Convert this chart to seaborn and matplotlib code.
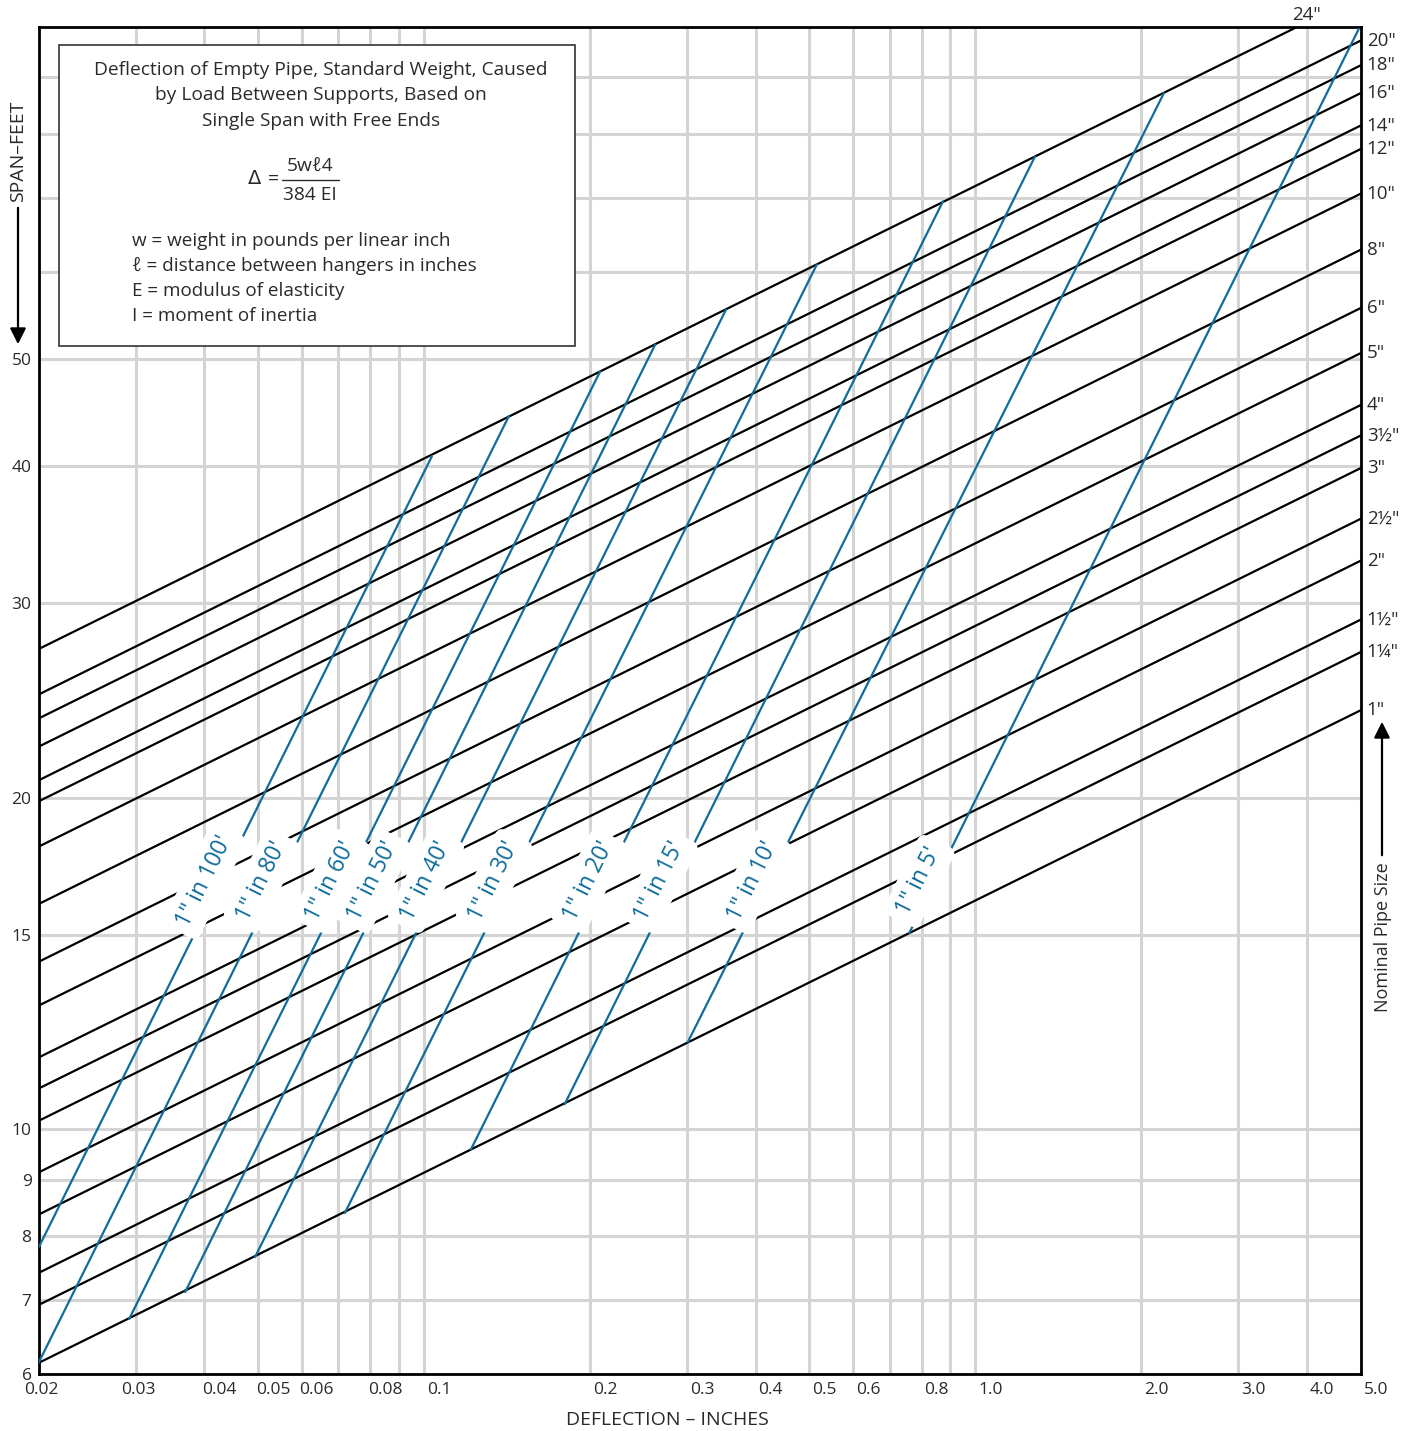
import numpy as np
import pandas as pd
import seaborn as sns
import matplotlib.pyplot as plt
import matplotlib.transforms as mtransforms
from matplotlib.lines import Line2D
from matplotlib.patches import Rectangle
from matplotlib.ticker import NullFormatter

W, H = 1416, 1431

# pipe lines: span (feet) read at the left edge (0.02") and right edge (5.0")
pipe_sizes = ['1"', '1¼"', '1½"', '2"', '2½"', '3"', '3½"', '4"', '5"', '6"',
              '8"', '10"', '12"', '14"', '16"', '18"', '20"', '24"']
span_left = [6.14, 6.93, 7.41, 8.37, 9.14, 10.18, 10.89, 11.62, 12.95, 14.19,
             16.01, 18.05, 19.84, 20.73, 22.24, 23.59, 24.80, 27.27]
span_right = [24.0, 27.1, 29.0, 32.8, 35.8, 39.8, 42.6, 45.4, 50.6, 55.6,
              62.8, 70.6, 77.5, 81.4, 87.1, 92.3, 97.2, 106.8]
defl_left, defl_right = 0.02, 5.0

# pitch lines (blue): start and end points
pitch_labels = ['1" in 100\'', '1" in 80\'', '1" in 60\'', '1" in 50\'', '1" in 40\'',
                '1" in 30\'', '1" in 20\'', '1" in 15\'', '1" in 10\'', '1" in 5\'']
pitch_defl0 = [0.02, 0.02, 0.0292, 0.0369, 0.0494, 0.0719, 0.1217, 0.180, 0.301, 0.759]
pitch_span0 = [7.81, 6.14, 6.73, 7.12, 7.66, 8.40, 9.59, 10.54, 12.0, 15.07]
pitch_defl1 = [0.1034, 0.1427, 0.2087, 0.2626, 0.353, 0.516, 0.874, 1.283, 2.198, 4.96]
pitch_span1 = [40.8, 44.4, 48.7, 51.5, 55.4, 60.9, 69.5, 76.3, 87.1, 99.6]
label_span = 16.8

x_ticks = [0.02, 0.03, 0.04, 0.05, 0.06, 0.08, 0.1, 0.2, 0.3, 0.4, 0.5, 0.6, 0.8,
           1.0, 2.0, 3.0, 4.0, 5.0]
x_tick_labels = ['0.02', '0.03', '0.04', '0.05', '0.06', '0.08', '0.1', '0.2', '0.3',
                 '0.4', '0.5', '0.6', '0.8', '1.0', '2.0', '3.0', '4.0', '5.0']
x_grid_extra = [0.07, 0.09, 0.7, 0.9]
y_ticks = [6, 7, 8, 9, 10, 15, 20, 30, 40, 50]
y_grid_extra = [60, 70, 80, 90]

BLUE = '#0f6d9c'
TXT = '#2a2a2a'

sns.set_theme(style='white')
plt.rcParams['font.family'] = ['Open Sans', 'DejaVu Sans']

fig = plt.figure(figsize=(W / 100, H / 100), dpi=100)
ax = fig.add_axes([38.5 / W, (H - 1374) / H, (1360.7 - 38.5) / W, (1374 - 27) / H])
ax.set_xscale('log')
ax.set_yscale('log')

pipes = pd.DataFrame({
    'pipe': pipe_sizes * 2,
    'deflection': [defl_left] * len(pipe_sizes) + [defl_right] * len(pipe_sizes),
    'span': span_left + span_right,
})
sns.lineplot(data=pipes, x='deflection', y='span', units='pipe', estimator=None,
             sort=False, color='black', lw=1.6, ax=ax, legend=False, zorder=2)

pitch = pd.DataFrame({
    'slope': pitch_labels * 2,
    'deflection': pitch_defl0 + pitch_defl1,
    'span': pitch_span0 + pitch_span1,
})
sns.lineplot(data=pitch, x='deflection', y='span', units='slope', estimator=None,
             sort=False, color=BLUE, lw=1.6, ax=ax, legend=False, zorder=3)

ax.set_xlim(defl_left, defl_right)
ax.set_ylim(6, 100)
ax.set_xticks(x_ticks, x_tick_labels)
ax.set_xticks(x_grid_extra, minor=True)
ax.set_yticks(y_ticks, [str(v) for v in y_ticks])
ax.set_yticks(y_grid_extra, minor=True)
ax.xaxis.set_minor_formatter(NullFormatter())
ax.yaxis.set_minor_formatter(NullFormatter())
ax.tick_params(which='both', length=0, labelsize=12.5, labelcolor=TXT)
ax.tick_params(axis='x', pad=6)
ax.tick_params(axis='y', pad=5)
ax.grid(True, which='both', color='#d4d4d4', lw=2.2)
ax.set_axisbelow(True)
ax.set_xlabel('')
ax.set_ylabel('')
for sp in ax.spines.values():
    sp.set_visible(True)
    sp.set_color('black')
    sp.set_linewidth(2)

# x tick labels sit a little right of their gridlines in the original
for i, lab in enumerate(ax.get_xticklabels()):
    dx = 3 if i < 2 else 15
    lab.set_transform(lab.get_transform() + mtransforms.ScaledTranslation(dx / 100, 0, fig.dpi_scale_trans))

# pitch labels with white backing
for lab, d0, s0, d1, s1 in zip(pitch_labels, pitch_defl0, pitch_span0, pitch_defl1, pitch_span1):
    t = (np.log(label_span) - np.log(s0)) / (np.log(s1) - np.log(s0))
    d = np.exp(np.log(d0) + t * (np.log(d1) - np.log(d0)))
    ax.annotate(lab, xy=(d, label_span), xytext=(-16, 0), textcoords='offset pixels',
                rotation=63.5, rotation_mode='anchor', ha='center', va='center',
                color=BLUE, fontsize=16.5, zorder=5,
                bbox=dict(boxstyle='round,pad=0.35', fc='white', ec='none'))

# pipe size labels on the right
for name, s1, s0 in zip(pipe_sizes, span_right, span_left):
    if s1 <= 100:
        ax.annotate(name, xy=(defl_right, s1), xytext=(6, 0), textcoords='offset pixels',
                    ha='left', va='center', fontsize=13.5, color=TXT, annotation_clip=False)
    else:
        t = (np.log(100) - np.log(s0)) / (np.log(s1) - np.log(s0))
        d = np.exp(np.log(defl_left) + t * (np.log(defl_right) - np.log(defl_left)))
        ax.annotate(name, xy=(d, 100), xytext=(10, 12), textcoords='offset pixels',
                    ha='center', va='center', fontsize=13.5, color=TXT, annotation_clip=False)


def fx(x):
    return x / W


def fy(y):
    return 1 - y / H


# axis titles and arrows
fig.text(fx(667), fy(1420), 'DEFLECTION – INCHES', ha='center', va='center', fontsize=14, color=TXT)
fig.text(fx(18), fy(151), 'SPAN–FEET', ha='center', va='center', rotation=90, fontsize=14, color=TXT)
fig.text(fx(1383), fy(937), 'Nominal Pipe Size', ha='center', va='center', rotation=90, fontsize=13, color=TXT)
ax.annotate('', xy=(fx(18), fy(347)), xytext=(fx(18), fy(205)), xycoords='figure fraction',
            textcoords='figure fraction',
            arrowprops=dict(arrowstyle='-|>', color='black', lw=1.6, mutation_scale=24))
ax.annotate('', xy=(fx(1382), fy(719)), xytext=(fx(1382), fy(858)), xycoords='figure fraction',
            textcoords='figure fraction',
            arrowprops=dict(arrowstyle='-|>', color='black', lw=1.6, mutation_scale=24))

# explanation box
fig.add_artist(Rectangle((fx(59), fy(346)), (575 - 59) / W, (346 - 45) / H,
                         transform=fig.transFigure, fc='white', ec='#333333', lw=1.2, zorder=2))
title_lines = ['Deflection of Empty Pipe, Standard Weight, Caused',
               'by Load Between Supports, Based on',
               'Single Span with Free Ends']
for txt, yy in zip(title_lines, [70, 95, 120.5]):
    fig.text(fx(321), fy(yy), txt, ha='center', va='center', fontsize=13.8, color=TXT, zorder=3)
fig.text(fx(255), fy(178), 'Δ', ha='center', va='center', fontsize=14, color=TXT, zorder=3,
         family='DejaVu Sans')
fig.text(fx(273), fy(179), '=', ha='center', va='center', fontsize=14, color=TXT, zorder=3)
fig.text(fx(310), fy(166), '5wℓ4', ha='center', va='center', fontsize=13.8, color=TXT, zorder=3)
fig.text(fx(310), fy(195), '384 EI', ha='center', va='center', fontsize=13.8, color=TXT, zorder=3)
fig.add_artist(Line2D([fx(282), fx(339)], [fy(180), fy(180)], transform=fig.transFigure,
                      color=TXT, lw=1, zorder=3))
defs = ['w = weight in pounds per linear inch',
        'ℓ = distance between hangers in inches',
        'E = modulus of elasticity',
        'I = moment of inertia']
for txt, yy in zip(defs, [241, 266, 291, 316]):
    fig.text(fx(132), fy(yy), txt, ha='left', va='center', fontsize=13.6, color=TXT, zorder=3)

fig.savefig('out.png', dpi=100)
